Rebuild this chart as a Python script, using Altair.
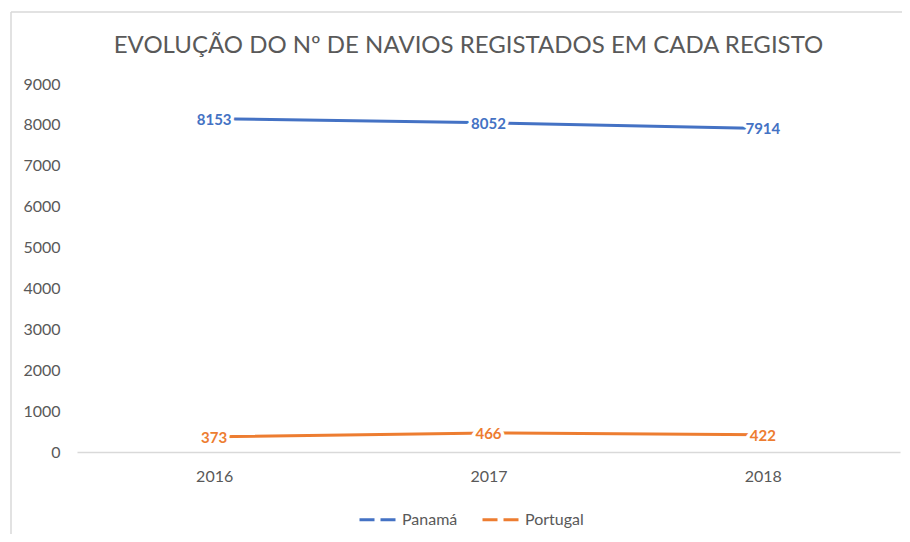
import altair as alt
import pandas as pd

years = ["2016", "2017", "2018"]
panama = [8153, 8052, 7914]
portugal = [373, 466, 422]
series = ["Panamá", "Portugal"]
colors = ["#4472C4", "#ED7D31"]
y_ticks = [0, 1000, 2000, 3000, 4000, 5000, 6000, 7000, 8000, 9000]
title_text = "EVOLUÇÃO DO Nº DE NAVIOS REGISTADOS EM CADA REGISTO"

rows = []
for name, vals in zip(series, [panama, portugal]):
    for yr, v in zip(years, vals):
        rows.append({"ano": yr, "serie": name, "valor": v})
df = pd.DataFrame(rows)

FONT = "Lato"
GREY = "#595959"

x_enc = alt.X("ano:N", title=None, sort=years,
              axis=alt.Axis(labelAngle=0, ticks=False, domainColor="#d9d9d9", domainWidth=1.5,
                            labelFontSize=16, labelColor=GREY, labelPadding=16, labelFont=FONT))
y_enc = alt.Y("valor:Q", title=None,
              scale=alt.Scale(domain=[0, 9000], nice=False, zero=True),
              axis=alt.Axis(values=y_ticks, grid=False, domain=False, ticks=False, format="d",
                            labelFontSize=16, labelColor=GREY, labelPadding=17, labelFont=FONT))
color_scale = alt.Scale(domain=series, range=colors)

base = alt.Chart(df)

lines = base.mark_line(strokeWidth=3).encode(
    x=x_enc, y=y_enc,
    color=alt.Color("serie:N", scale=color_scale, title=None,
                    legend=alt.Legend(orient="none", legendX=281, legendY=414, direction="horizontal",
                                      symbolType="stroke", symbolSize=1600, symbolStrokeWidth=3,
                                      symbolDash=[15, 6], labelFontSize=16, labelColor=GREY,
                                      labelFont=FONT, columnPadding=18, labelOffset=1)),
)

halo = base.mark_text(fontSize=15, fontWeight="bold", font=FONT, fill="white", stroke="white",
                      strokeWidth=7, baseline="middle", dy=1).encode(
    x="ano:N", y="valor:Q", text="valor:Q")

labels = base.mark_text(fontSize=15, fontWeight="bold", font=FONT, baseline="middle", dy=1).encode(
    x="ano:N", y="valor:Q", text="valor:Q",
    color=alt.Color("serie:N", scale=color_scale, legend=None))

frame = pd.DataFrame({"k": [0]})
left_border = alt.Chart(frame).mark_rule(color="#d9d9d9", strokeWidth=1.5).encode(
    x=alt.value(-66), y=alt.value(-72), y2=alt.value(460))
top_border = alt.Chart(frame).mark_rule(color="#d9d9d9", strokeWidth=1.5).encode(
    x=alt.value(-66), x2=alt.value(840), y=alt.value(-72))

chart = alt.layer(left_border, top_border, lines, halo, labels).properties(
    width=823, height=368,
    autosize=alt.AutoSizeParams(type="none"),
    padding={"left": 69, "top": 76, "right": 2, "bottom": 82},
    title=alt.Title(title_text, fontSize=24, font=FONT, fontWeight="normal", color=GREY,
                    anchor="middle", dx=-20, offset=-47),
).configure_view(stroke=None)

chart.save("out.html", embed_options={"renderer": "svg", "actions": False})
